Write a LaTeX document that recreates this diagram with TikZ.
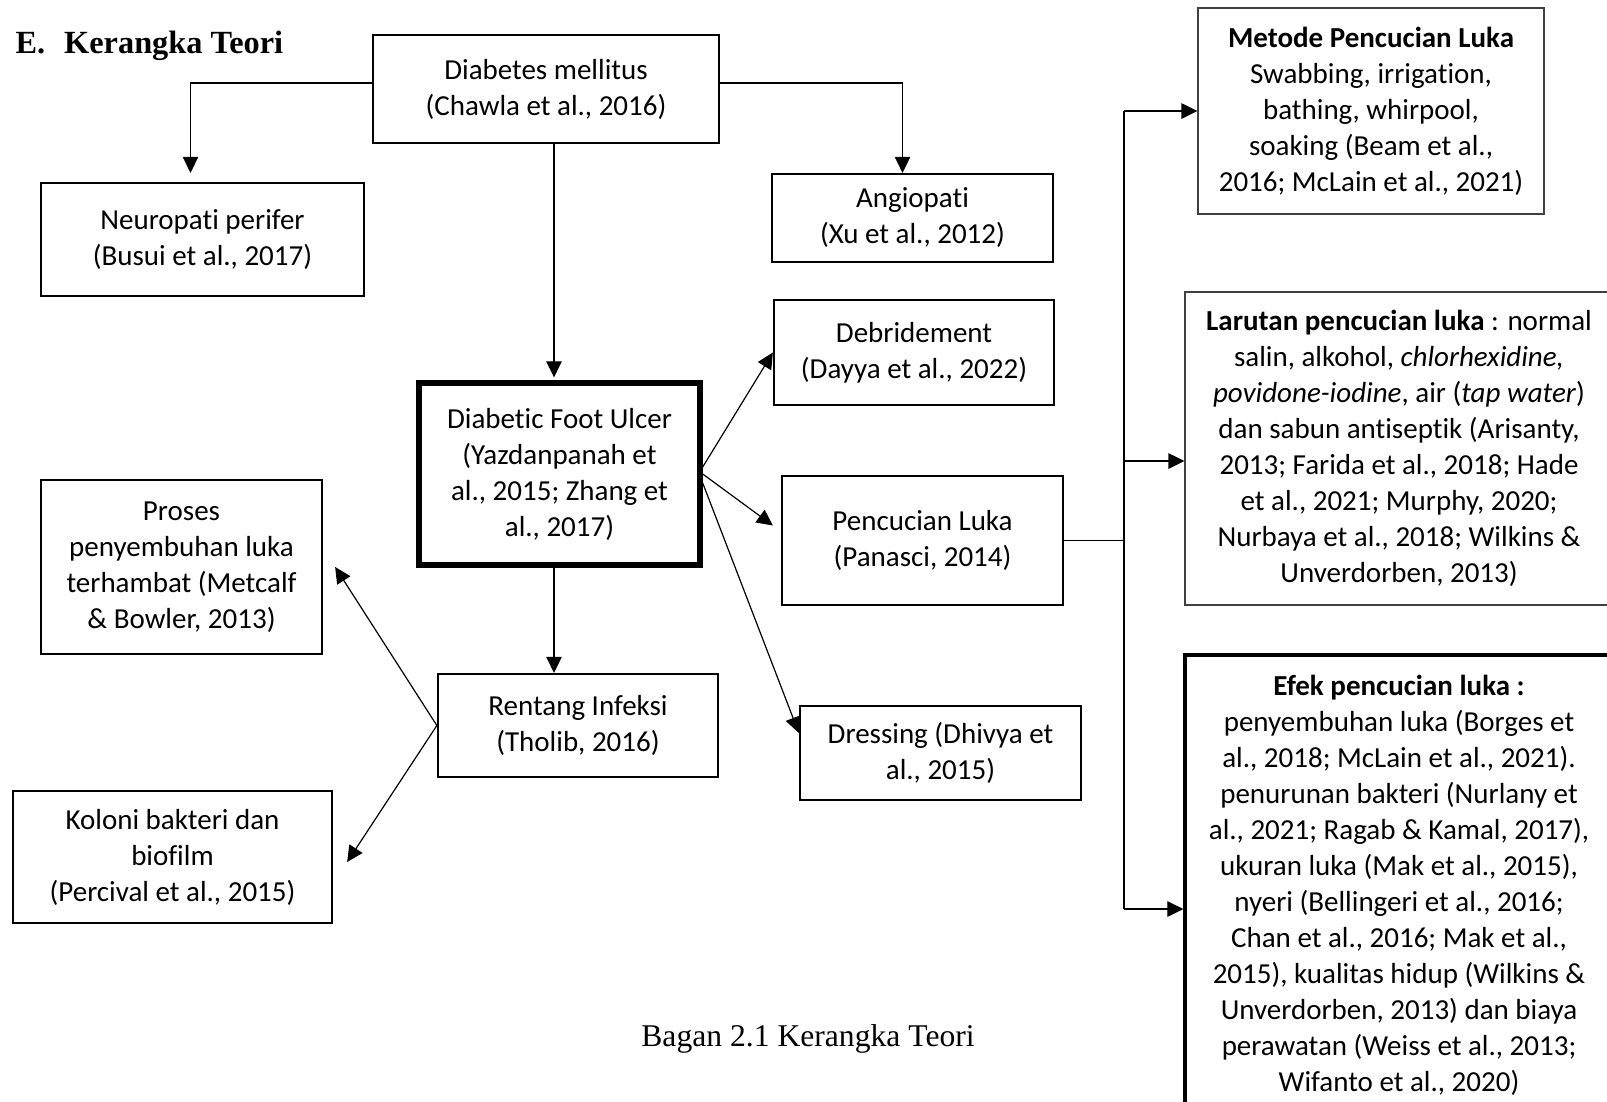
\documentclass[tikz,border=0pt]{standalone}
\usepackage{fontspec}
\setmainfont[Ligatures=NoCommon]{Carlito}
\newfontfamily\timesfont{Liberation Serif}
\usetikzlibrary{
        arrows.meta
    }
\tikzset{>={Triangle[length=1.6mm,width=1.55mm]}}
\tikzset{box/.style={draw,line width=0.23mm,align=center,inner sep=0pt,font=\fontsize{8.25}{10.24}\selectfont}}
\tikzset{thinbox/.style={box,line width=0.12mm,draw=black!75}}

\begin{document}
\begin{tikzpicture}[x=0.1mm,y=-0.1mm,line width=0.12mm]
                \useasboundingbox (0,0) rectangle (1607,1101);
                \node[anchor=base west,inner sep=0pt,font=\timesfont\bfseries\fontsize{9.2}{11}\selectfont] (ttl) at (15,53) {E.\hspace{1.9mm}Kerangka Teori};
                \node[box,minimum width=34.6mm,minimum height=10.8mm] (dm) at (546,89) {Diabetes mellitus\\(Chawla et al., 2016)};
                \node[box,minimum width=32.3mm,minimum height=11.3mm] (neu) at (202.5,239.5) {Neuropati perifer\\(Busui et al., 2017)};
                \node[box,minimum width=28.1mm,minimum height=8.8mm] (ang) at (912.5,218) {Angiopati\\(Xu et al., 2012)};
                \node[box,minimum width=28mm,minimum height=10.5mm] (deb) at (914,352.5) {Debridement\\(Dayya et al., 2022)};
                \node[box,line width=0.54mm,minimum width=28.1mm,minimum height=18.2mm] (dfu) at (559.5,474) {Diabetic Foot Ulcer\\(Yazdanpanah et\\al., 2015; Zhang et\\al., 2017)};
                \node[box,minimum width=28.1mm,minimum height=12.9mm] (pen) at (922.5,540.5) {Pencucian Luka\\(Panasci, 2014)};
                \node[box,minimum width=28.1mm,minimum height=17.4mm] (pro) at (181.5,567) {Proses\\penyembuhan luka\\terhambat (Metcalf\\\& Bowler, 2013)};
                \node[box,minimum width=28mm,minimum height=10.3mm] (ren) at (578,725.5) {Rentang Infeksi\\(Tholib, 2016)};
                \node[box,minimum width=28.1mm,minimum height=9.4mm] (dre) at (940.5,753) {Dressing (Dhivya et\\al., 2015)};
                \node[box,minimum width=31.9mm,minimum height=13.2mm] (kol) at (172.5,857) {Koloni bakteri dan\\biofilm\\(Percival et al., 2015)};
                \node[thinbox,minimum width=34.6mm,minimum height=20.6mm] (met) at (1371,111) {\textbf{Metode Pencucian Luka}\\Swabbing, irrigation,\\bathing, whirpool,\\soaking (Beam et al.,\\2016; McLain et al., 2021)};
                \node[thinbox,minimum width=42.8mm,minimum height=31.3mm] (lar) at (1399,448.5) {\textbf{Larutan pencucian luka} : normal\\salin, alkohol, \textit{chlorhexidine,}\\\textit{povidone-iodine}, air (\textit{tap water})\\dan sabun antiseptik (Arisanty,\\2013; Farida et al., 2018; Hade\\et al., 2021; Murphy, 2020;\\Nurbaya et al., 2018; Wilkins \&\\Unverdorben, 2013)};
                \node[box,line width=0.33mm,minimum width=42.8mm,minimum height=46mm] (efk) at (1399,885) {\textbf{Efek pencucian luka :}\\penyembuhan luka (Borges et\\al., 2018; McLain et al., 2021).\\penurunan bakteri (Nurlany et\\al., 2021; Ragab \& Kamal, 2017),\\ukuran luka (Mak et al., 2015),\\nyeri (Bellingeri et al., 2016;\\Chan et al., 2016; Mak et al.,\\2015), kualitas hidup (Wilkins \&\\Unverdorben, 2013) dan biaya\\perawatan (Weiss et al., 2013;\\Wifanto et al., 2020)};
                \node[anchor=base,inner sep=0pt,font=\timesfont\fontsize{9}{11}\selectfont] (cap) at (808,1046) {Bagan 2.1 Kerangka Teori};
                \draw[->,shorten >=0.9mm] ([yshift=0.6mm]dm.west) -| ([xshift=-1.2mm]neu.north);
                \draw[->] ([yshift=0.6mm]dm.east) -| ([xshift=-1mm]ang.north);
                \draw[->,shorten >=0.3mm] ([xshift=0.8mm]dm.south) -- ([xshift=0.8mm]dm.south |- dfu.north);
                \draw[->] ([xshift=-0.55mm]dfu.south) -- ([xshift=-0.55mm]dfu.south |- ren.north);
                \draw[->] ([yshift=0.7mm]dfu.east) -- (deb.west);
                \draw[->] (dfu.east) -- ([xshift=-0.8mm,yshift=1.5mm]pen.west);
                \draw[->] ([yshift=-0.9mm]dfu.east) -- ([yshift=2mm]dre.west);
                \draw[->] (ren.west) -- ([xshift=1.2mm]pro.east);
                \draw[->] (ren.west) -- ([xshift=1.4mm,yshift=-0.5mm]kol.east);
                \coordinate (br) at (1124,536);
                \coordinate (lar-in) at ([yshift=-1.25mm]lar.west);
                \coordinate (efk-in) at ([yshift=-2.4mm]efk.west);
                \draw (pen.east) -- (pen.east -| br);
                \draw (br |- met.west) -- (br |- efk-in);
                \draw[->] (br |- met.west) -- (met.west);
                \draw[->] (br |- lar-in) -- (lar-in);
                \draw[->] (br |- efk-in) -- (efk-in);
            \end{tikzpicture}
\end{document}
